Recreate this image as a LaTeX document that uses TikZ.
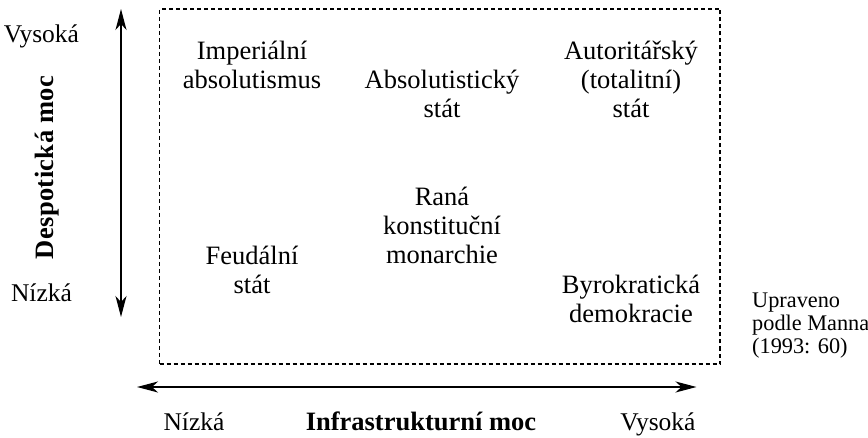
\documentclass[tikz,border=0pt]{standalone}
\usepackage{fontspec}
\setmainfont{Liberation Serif}
\usepackage{tikz}
\usetikzlibrary{arrows.meta,positioning}
\definecolor{AxisBlack}{RGB}{0,0,0}

\tikzset{
  stateform/.style={align=center,inner sep=0pt,font=\fontsize{26.5}{29}\selectfont},
  levellabel/.style={anchor=base,inner sep=0pt,font=\fontsize{25.5}{29}\selectfont},
  axistitle/.style={inner sep=0pt,font=\fontsize{26.5}{29}\selectfont\bfseries},
  axisarrow/.style={{Stealth[length=21pt,width=11pt,inset=6pt]}-{Stealth[length=21pt,width=11pt,inset=6pt]},color=AxisBlack}
}

\begin{document}
\begin{tikzpicture}[x=1pt,y=-1pt]
    \useasboundingbox (0,0) rectangle (868,438);

    % Dashed frame around the typology
    \node[draw,dash pattern=on 4pt off 3pt,line width=1.2pt,inner sep=0pt,minimum width=560.5pt,minimum height=355pt] (frame) at (439.75,186.5) {};

    % Forms of the state
    \node[stateform] (imperial) at (252,65) {Imperiální\\absolutismus};
    \node[stateform] (absolut) at (442,94) {Absolutistický\\stát};
    \node[stateform] (autor) at (631,79.5) {Autoritářský\\(totalitní)\\stát};
    \node[stateform] (rana) at (442,225.5) {Raná\\konstituční\\monarchie};
    \node[stateform] (feudal) at (252,269.5) {Feudální\\stát};
    \node[stateform] (byro) at (631,299) {Byrokratická\\demokracie};

    % Vertical axis: despotic power
    \coordinate (despTop) at (121,9);
    \coordinate (despBot) at (121,317);
    \draw[axisarrow,line width=1.3pt] (despBot) -- (despTop);
    \node[levellabel] (despHigh) at (41.5,43) {Vysoká};
    \node[levellabel] (despLow) at (41.5,301.5) {Nízká};
    \node[axistitle,rotate=90,font=\fontsize{26.5}{29}\selectfont\bfseries\addfontfeature{LetterSpace=1.5}] (despTitle) at (47,167.5) {Despotická moc};

    % Horizontal axis: infrastructural power
    \coordinate (infraLeft) at (137,387);
    \coordinate (infraRight) at (696.5,387);
    \draw[axisarrow,line width=1.8pt] (infraLeft) -- (infraRight);
    \node[levellabel] (infraLow) at (194,430) {Nízká};
    \node[axistitle,anchor=base] (infraTitle) at (421,430) {Infrastrukturní moc};
    \node[levellabel] (infraHigh) at (658,430) {Vysoká};

    % Source note
    \node[align=left,anchor=west,inner sep=0pt,font=\fontsize{22.3}{23}\selectfont] (source) at (752,326) {Upraveno\\podle Manna\\(1993: 60)};
\end{tikzpicture}
\end{document}
